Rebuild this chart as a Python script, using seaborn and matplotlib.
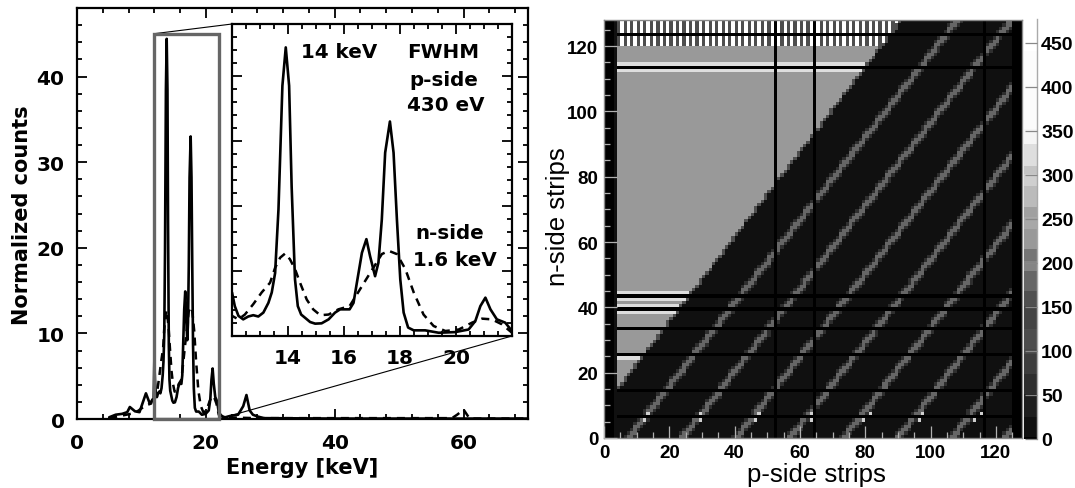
import numpy as np
import seaborn as sns
import matplotlib
matplotlib.use("Agg")
import matplotlib.pyplot as plt
from matplotlib.colors import ListedColormap, BoundaryNorm
from matplotlib.patches import Rectangle, ConnectionPatch
from matplotlib.ticker import MultipleLocator

# ---------- spectrum data ----------
solid_e = [5, 6, 7, 7.8, 8.2, 9, 9.7, 10.7, 11.3, 11.9,
           12.0, 12.1, 12.23, 12.4, 12.58, 12.76, 12.94, 13.12, 13.3, 13.42, 13.54, 13.66, 13.8, 13.92,
           14.04, 14.13, 14.25, 14.35, 14.47, 14.61, 14.79, 14.97, 15.2, 15.45, 15.68, 15.86, 16.2, 16.34,
           16.46, 16.64, 16.8, 16.93, 17.11, 17.23, 17.35, 17.47, 17.64, 17.77, 17.89, 18.01, 18.13, 18.29,
           18.49, 18.9, 19.38, 19.97, 20.45, 20.69, 20.87, 21.05, 21.23, 21.46, 21.76, 22.0,
           22.5, 23, 24, 25, 25.8, 26.3, 26.8, 27.3, 28, 29, 40, 55, 70]
solid_c = [0.2, 0.5, 0.6, 0.8, 1.4, 0.9, 0.8, 3.0, 1.8, 2.4,
           6.7, 4.6, 3.1, 2.56, 3.0, 3.2, 3.0, 3.6, 5.1, 6.7, 9.7, 19.5, 38.5, 44.4,
           38.5, 23.0, 8.7, 4.6, 3.3, 2.8, 2.15, 1.9, 1.95, 2.56, 3.6, 4.1, 4.1, 5.1,
           8.2, 12.8, 14.9, 12.3, 9.2, 11.3, 17.9, 28.2, 33.0, 28.2, 17.9, 8.7, 3.6, 1.3,
           0.87, 0.87, 0.5, 0.6, 1.0, 2.3, 4.6, 5.9, 4.1, 2.56, 2.05, 0.77,
           0.3, 0.2, 0.4, 0.5, 1.5, 2.8, 1.0, 0.5, 0.3, 0.1, 0.05, 0.05, 0.05]

dashed_e = [5, 7, 9, 10.7, 11.5,
            12, 12.23, 12.46, 12.76, 13.06, 13.36, 13.54, 13.72, 13.9, 14.07, 14.25, 14.43, 14.67, 14.9, 15.15,
            15.45, 15.8, 16.2, 16.46, 16.76, 17.05, 17.35, 17.6, 17.89, 18.19, 18.49, 18.84, 19.2, 19.62, 20.1,
            20.57, 20.93, 21.28, 21.64, 22, 23, 25, 28, 40, 58.2, 59, 60, 60.8, 61, 70]
dashed_c = [0.1, 0.4, 0.7, 1.6, 1.8,
            3.1, 2.56, 3.3, 4.9, 6.7, 8.2, 10.5, 12.05, 12.7, 11.8, 10.3, 8.2, 5.6, 4.1, 3.2,
            3.3, 4.1, 4.6, 6.4, 8.5, 10.5, 12.6, 13.1, 12.6, 10.3, 6.7, 3.3, 1.54, 0.77, 1.0,
            2.05, 2.67, 2.56, 1.8, 0.5, 0.2, 0.15, 0.1, 0.1, 0.1, 0.5, 1.1, 0.2, 0.05, 0.05]

# ---------- hit-map description ----------
n_strips = 128
dead_rows = [6, 14, 25, 33, 39, 43, 113, 123]
dead_cols = [52, 64, 116]
bright_rows = [24, 38, 40, 42, 44, 112, 114]
stripe_origins = [7.5, 24, 40.5, 57, 73.4, 90, 106.5, 123]
hot_row7 = [13, 29, 47, 63, 81, 97, 115]
hot_row5 = [12, 29, 46, 63, 79, 96, 113]
pattern_rows_columns = [120, 121, 122, 125, 126, 127]
pattern_rows_checker = [124]
level_light, level_edge, level_bright, level_dark = 225, 110, 320, 12
level_stripe, level_stripe_side, level_hot = 175, 60, 300
level_white, level_grey = 460, 110

# colour bands of the colour bar
band_edges = [0, 2, 25, 51, 74, 97, 102, 125, 151, 168, 191, 202, 216, 239, 252, 264, 287, 301, 310, 335, 352, 403, 441, 477]
band_cols = ['#000000', '#101010', '#1e1e1e', '#2e2e2e', '#3d3d3d', '#484848', '#4d4d4d', '#444444', '#505050',
             '#666666', '#858585', '#757575', '#999999', '#a8a8a8', '#a0a0a0', '#bbbbbb', '#cfcfcf', '#c4c4c4',
             '#dedede', '#f5f5f5', '#fbfbfb', '#fcfcfc', '#ffffff']

# ---------- build the map ----------
P, N = np.meshgrid(np.arange(n_strips) + 0.5, np.arange(n_strips) + 0.5)
hitmap = np.full((n_strips, n_strips), float(level_dark))
for p0 in stripe_origins:
    dist = np.abs(P - (p0 + N / 1.27))
    hitmap[dist < 1.7] = level_stripe_side
    hitmap[dist < 0.9] = level_stripe
for p in hot_row7:
    hitmap[7, p] = level_hot
for p in hot_row5:
    hitmap[5, p] = level_hot
boundary = 15 + 1.3 * (P - 3.7)
hitmap[N > boundary - 1.2] = level_edge
light = N > boundary
hitmap[light] = level_light
for r in bright_rows:
    hitmap[r][light[r]] = level_bright
for r in pattern_rows_columns:
    for c in range(n_strips):
        if light[r, c]:
            hitmap[r, c] = level_white if c % 2 else level_grey
for r in pattern_rows_checker:
    for c in range(n_strips):
        if light[r, c]:
            hitmap[r, c] = level_white if (c + r) % 2 else level_grey
hitmap[dead_rows, :] = 0
hitmap[:, dead_cols] = 0
hitmap[:, :3] = 0
hitmap[:, 3] = 20
hitmap[:, 125:] = 0

# ---------- figure ----------
sns.set_theme(style="white")
W, H = 1075, 489
fig = plt.figure(figsize=(W / 100, H / 100), dpi=100, facecolor='white')


def box(l, t, r, b):
    return [l / W, 1 - b / H, (r - l) / W, (b - t) / H]


left_font = dict(family='DejaVu Sans', fontweight='bold', color='black')
right_font = dict(family='Liberation Sans', color='black')

ax = fig.add_axes(box(77, 9, 528, 420))
ins = fig.add_axes(box(232, 25, 512, 337), zorder=5)
for a in (ax, ins):
    sns.lineplot(x=solid_e, y=solid_c, ax=a, color='black', lw=1.9, estimator=None, sort=False, errorbar=None)
    sns.lineplot(x=dashed_e, y=dashed_c, ax=a, color='black', lw=1.8, estimator=None, sort=False, errorbar=None,
                 linestyle=(0, (3.2, 2.4)))
    a.set_xlabel('')
    a.set_ylabel('')
    for s in a.spines.values():
        s.set_visible(True)
        s.set_color('black')
        s.set_linewidth(1.6)
    a.tick_params(which='both', direction='in', top=True, right=True, bottom=True, left=True,
                  color='black', width=1.3)
    a.tick_params(which='major', length=7)
    a.tick_params(which='minor', length=3.5)

ax.set_xlim(0, 70)
ax.set_ylim(0, 48)
ax.xaxis.set_major_locator(MultipleLocator(20))
ax.xaxis.set_minor_locator(MultipleLocator(4))
ax.yaxis.set_major_locator(MultipleLocator(10))
ax.yaxis.set_minor_locator(MultipleLocator(2))
ax.set_xticks([0, 20, 40, 60])
ax.set_xticklabels(['0', '20', '40', '60'], fontsize=14.5, **left_font)
ax.set_yticks([0, 10, 20, 30, 40])
ax.set_yticklabels(['0', '10', '20', '30', '40'], fontsize=14.5, **left_font)
ax.tick_params(axis='x', pad=10)
ax.tick_params(axis='y', pad=9)
ax.set_xlabel('Energy [keV]', fontsize=15, **left_font)
ax.set_ylabel('Normalized counts', fontsize=15, **left_font)
ax.xaxis.set_label_coords(302 / W, 1 - 458 / H, transform=fig.transFigure)
ax.yaxis.set_label_coords(32 / W, 1 - 215 / H, transform=fig.transFigure)

ins.set_xlim(12, 22)
ins.set_ylim(0, 48)
ins.set_xticks([14, 16, 18, 20])
ins.set_xticklabels(['14', '16', '18', '20'], fontsize=14.5, **left_font)
ins.xaxis.set_minor_locator(MultipleLocator(0.5))
ins.set_yticks([0, 10, 20, 30, 40])
ins.set_yticklabels([])
ins.yaxis.set_minor_locator(MultipleLocator(2))
ins.tick_params(axis='x', pad=9)
ins.patch.set_facecolor('white')

ax.add_patch(Rectangle((12, 0), 10, 45, fill=False, edgecolor='#666666', lw=2.4, zorder=6, clip_on=False))
ax.add_artist(ConnectionPatch((12, 45), (12, 48), 'data', 'data', axesA=ax, axesB=ins, color='black', lw=0.8))
ax.add_artist(ConnectionPatch((22, 0), (22, 0), 'data', 'data', axesA=ax, axesB=ins, color='black', lw=0.8))

for txt, xp, yp in [('14 keV', 339, 53), ('FWHM', 443, 53), ('p-side', 444, 80), ('430 eV', 446, 106),
                    ('n-side', 450, 234), ('1.6 keV', 455, 261)]:
    fig.text(xp / W, 1 - yp / H, txt, fontsize=14.3, ha='center', va='center', zorder=10, **left_font)

# ---------- right panel ----------
hm = fig.add_axes(box(604, 21, 1022, 439))
cax = fig.add_axes(box(1024, 20, 1037, 440))
cmap = ListedColormap(band_cols)
norm = BoundaryNorm(band_edges, cmap.N)
sns.heatmap(hitmap, ax=hm, cbar_ax=cax, cmap=cmap, norm=norm, xticklabels=False, yticklabels=False,
            cbar_kws=dict(spacing='proportional', ticks=list(range(0, 451, 50)), drawedges=False))
hm.set_axisbelow(False)
hm.set_xlim(0, n_strips)
hm.set_ylim(0, n_strips)
ticks = list(range(0, 121, 20))
hm.set_xticks(ticks)
hm.set_xticklabels([str(t) for t in ticks], fontsize=13.5, fontweight='bold', **right_font)
hm.set_yticks(ticks)
hm.set_yticklabels([str(t) for t in ticks], fontsize=13.5, fontweight='bold', rotation=0, **right_font)
hm.xaxis.set_minor_locator(MultipleLocator(5))
hm.yaxis.set_minor_locator(MultipleLocator(5))
hm.tick_params(which='both', direction='in', color='#b0b0b0', width=0.9, bottom=True, left=True)
hm.tick_params(which='major', length=9, pad=4)
hm.tick_params(which='minor', length=4)
for s in hm.spines.values():
    s.set_visible(True)
    s.set_color('#888888')
    s.set_linewidth(1)
hm.set_xlabel('p-side strips', fontsize=18.5, **right_font)
hm.set_ylabel('n-side strips', fontsize=18.5, **right_font)
hm.xaxis.set_label_coords(816 / W, 1 - 463 / H, transform=fig.transFigure)
hm.yaxis.set_label_coords(570 / W, 1 - 217 / H, transform=fig.transFigure)

cax.set_axisbelow(False)
cax.minorticks_off()
cax.tick_params(which='major', direction='in', length=9, width=0.9, color='#888888', right=True, left=False, pad=3)
cax.set_yticks(list(range(0, 451, 50)))
cax.set_yticklabels([str(t) for t in range(0, 451, 50)], fontsize=14, fontweight='bold', **right_font)
hm.collections[0].colorbar.outline.set_visible(False)
cax.spines['right'].set_visible(True)
cax.spines['right'].set_color('#aaaaaa')
cax.spines['right'].set_linewidth(1)

fig.savefig('out.png', dpi=100)
